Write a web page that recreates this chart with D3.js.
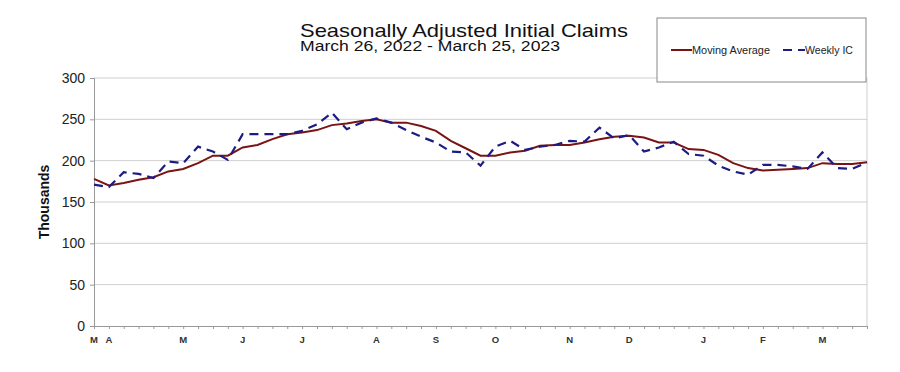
<!DOCTYPE html>
<meta charset="utf-8">
<style>
body { margin: 0; background: #fff; font-family: "Liberation Sans", Arial, sans-serif; }
.grid line { stroke: #cfcfcf; }
.y.axis text { font-size: 14px; fill: #222; }
.axis path, .axis line { stroke: #999; }
</style>
<body>
<script src="https://d3js.org/d3.v7.min.js"></script>
<script>
// weeks ending Mar 26 2022 .. Mar 25 2023
var weeks = d3.range(53);

var weeklyIC = [171, 168, 186, 184, 179, 199, 197, 217, 211, 201,
                232, 232, 232, 232, 236, 244, 258, 238, 246, 251,
                246, 237, 229, 222, 211, 210, 194, 217, 224, 213,
                217, 219, 224, 223, 240, 227, 231, 211, 216, 223,
                208, 206, 194, 187, 183, 195, 195, 193, 190, 210,
                191, 190, 198];

var movingAvg = [178, 170, 173, 177, 180, 187, 190, 197, 206, 206,
                 216, 219, 226, 232, 234, 237, 243, 245, 248, 250,
                 246, 246, 242, 236, 224, 215, 206, 206, 210, 212,
                 218, 219, 219, 222, 226, 229, 230, 228, 222, 222,
                 214, 213, 207, 197, 191, 188, 189, 190, 191, 197,
                 196, 196, 198];

// month labels, at the first week of each month
var monthIdx = [0, 1, 6, 10, 14, 19, 23, 27, 32, 36, 41, 45, 49];
var monthLbl = ["M", "A", "M", "J", "J", "A", "S", "O", "N", "D", "J", "F", "M"];

var yTicks = [0, 50, 100, 150, 200, 250, 300];

var margin = {top: 78, right: 33, bottom: 46, left: 94},
    width = 900 - margin.left - margin.right,
    height = 372 - margin.top - margin.bottom;

var svg = d3.select("body").append("svg")
    .attr("width", 900)
    .attr("height", 372);

var g = svg.append("g")
    .attr("transform", "translate(" + margin.left + "," + margin.top + ")");

var x = d3.scaleLinear().domain([0, 52]).range([0, width]);
var y = d3.scaleLinear().domain([0, 300]).range([height, 0]);

// gridlines
g.append("g").attr("class", "grid")
  .selectAll("line")
  .data(yTicks.slice(1))
  .enter().append("line")
    .attr("x1", 0).attr("x2", width)
    .attr("y1", function(d) { return y(d); })
    .attr("y2", function(d) { return y(d); });

// right border
g.append("line")
    .attr("x1", width).attr("x2", width)
    .attr("y1", 0).attr("y2", height)
    .attr("stroke", "#cfcfcf");

g.append("g")
    .attr("class", "y axis")
    .call(d3.axisLeft(y).tickValues(yTicks).tickSize(4).tickPadding(5));

var xAxis = g.append("g")
    .attr("class", "x axis")
    .attr("transform", "translate(0," + height + ")")
    .call(d3.axisBottom(x).tickValues(weeks).tickSize(3).tickFormat(""));

g.append("g").selectAll("text")
  .data(monthIdx)
  .enter().append("text")
    .attr("x", function(d) { return x(d); })
    .attr("y", height + 17)
    .attr("text-anchor", "middle")
    .style("font-size", "9.5px")
    .style("font-weight", "bold")
    .style("fill", "#333")
    .text(function(d, i) { return monthLbl[i]; });

var line = d3.line()
    .x(function(d, i) { return x(i); })
    .y(function(d) { return y(d); });

g.append("path")
    .datum(movingAvg)
    .attr("fill", "none")
    .attr("stroke", "#7a1414")
    .attr("stroke-width", 2)
    .attr("d", line);

g.append("path")
    .datum(weeklyIC)
    .attr("fill", "none")
    .attr("stroke", "#1c1c84")
    .attr("stroke-width", 2.2)
    .attr("stroke-dasharray", "9,6")
    .attr("d", line);

svg.append("text")
    .attr("transform", "translate(49," + (margin.top + height / 2) + ") rotate(-90)")
    .attr("text-anchor", "middle")
    .style("font-size", "14px")
    .style("font-weight", "bold")
    .style("fill", "#111")
    .text("Thousands");

// titles (the original type is a bit wider than Liberation Sans)
svg.append("text")
    .attr("x", 300).attr("y", 37)
    .attr("textLength", 328).attr("lengthAdjust", "spacingAndGlyphs")
    .style("font-size", "18.5px")
    .style("fill", "#111")
    .text("Seasonally Adjusted Initial Claims");

svg.append("text")
    .attr("x", 300).attr("y", 51)
    .attr("textLength", 260).attr("lengthAdjust", "spacingAndGlyphs")
    .style("font-size", "14px")
    .style("fill", "#111")
    .text("March 26, 2022 - March 25, 2023");

// legend
var lg = svg.append("g").attr("transform", "translate(657,18)");
lg.append("rect")
    .attr("width", 209).attr("height", 64)
    .attr("fill", "#fff")
    .attr("stroke", "#888");
lg.append("line")
    .attr("x1", 14).attr("x2", 35).attr("y1", 32).attr("y2", 32)
    .attr("stroke", "#7a1414").attr("stroke-width", 2);
lg.append("text")
    .attr("x", 35).attr("y", 36)
    .attr("textLength", 78).attr("lengthAdjust", "spacingAndGlyphs")
    .style("font-size", "10px").style("fill", "#222")
    .text("Moving Average");
lg.append("line")
    .attr("x1", 126).attr("x2", 148).attr("y1", 32).attr("y2", 32)
    .attr("stroke", "#1c1c84").attr("stroke-width", 2)
    .attr("stroke-dasharray", "9,6");
lg.append("text")
    .attr("x", 148).attr("y", 36)
    .attr("textLength", 48).attr("lengthAdjust", "spacingAndGlyphs")
    .style("font-size", "10px").style("fill", "#222")
    .text("Weekly IC");
</script>
</body>
